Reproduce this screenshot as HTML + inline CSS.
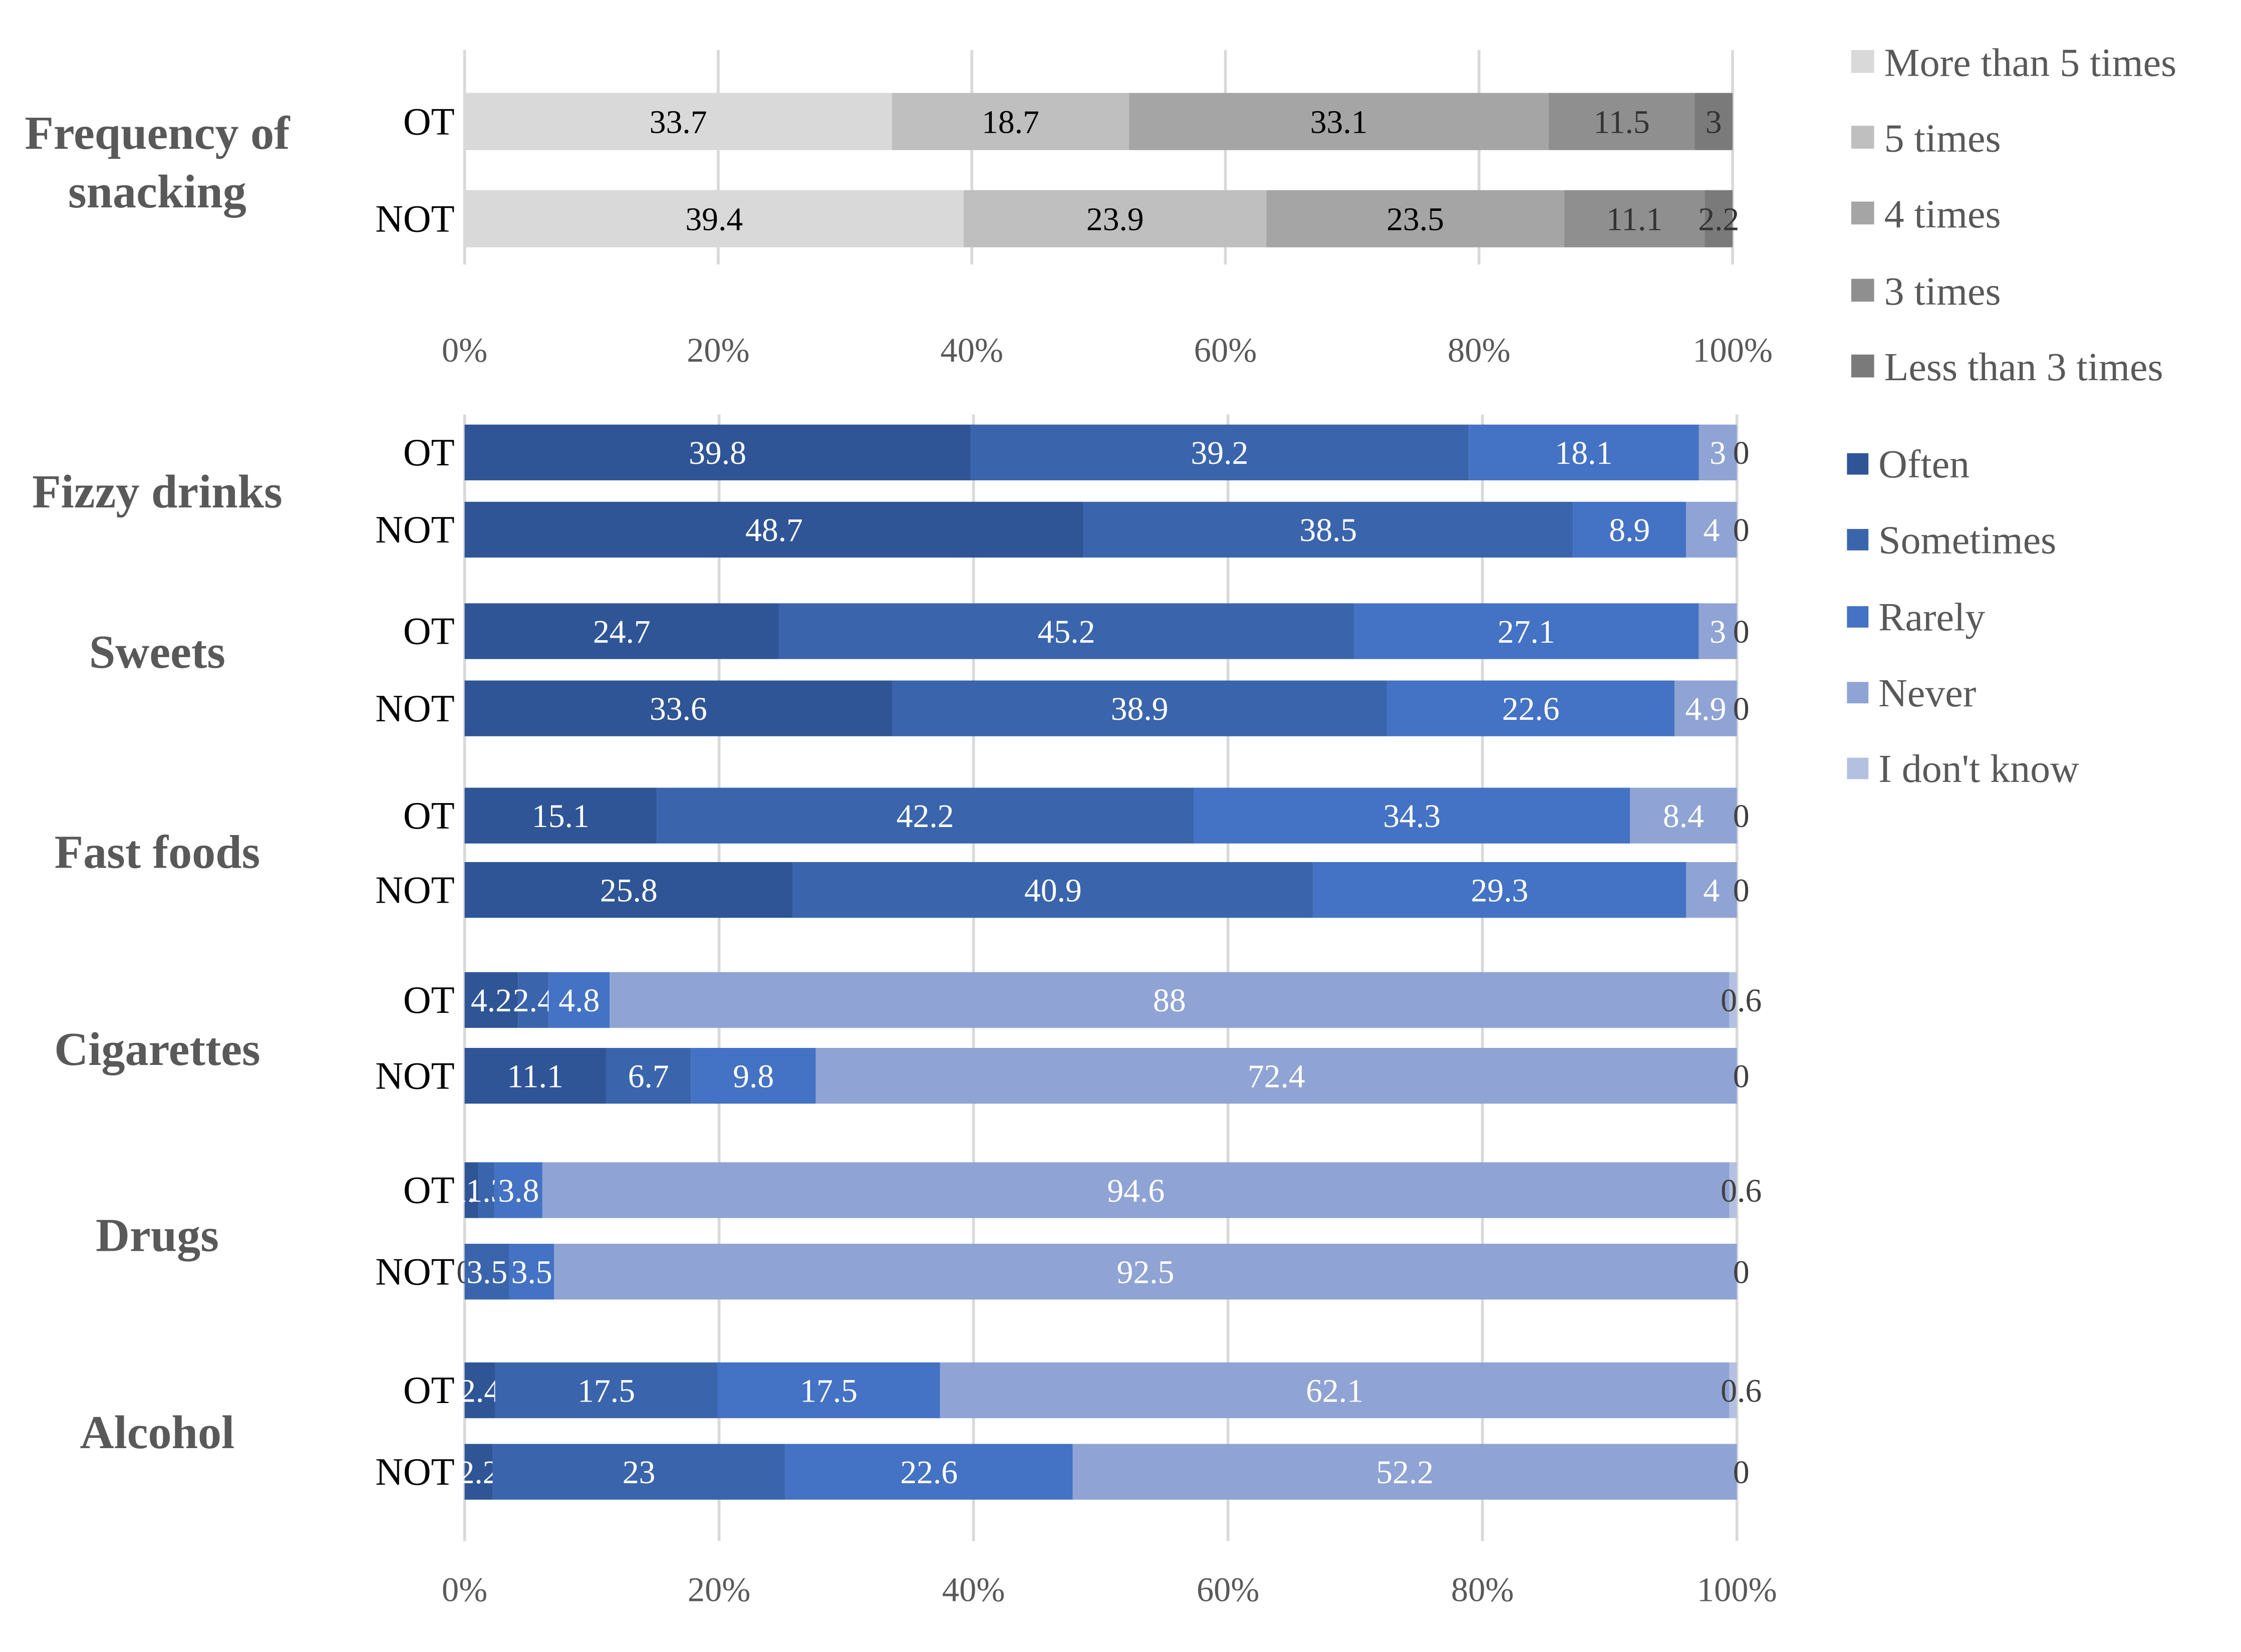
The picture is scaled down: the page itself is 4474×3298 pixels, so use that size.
<!DOCTYPE html>
<html><head><meta charset="utf-8"><style>
html,body{margin:0;padding:0;background:#fff;}
svg{display:block;}
text{font-family:"Liberation Serif",serif;}
</style></head><body>
<svg id="chart" width="4474" height="3298" viewBox="0 0 1559 1149.2" preserveAspectRatio="none" xmlns="http://www.w3.org/2000/svg"><g id="root" transform="scale(0.9945)"></g></svg>
<script>
const topCats = ["OT","NOT"];
const topSeries = ["More than 5 times","5 times","4 times","3 times","Less than 3 times"];
const topValues = [[33.7,18.7,33.1,11.5,3],[39.4,23.9,23.5,11.1,2.2]];
const botGroups = ["Fizzy drinks","Sweets","Fast foods","Cigarettes","Drugs","Alcohol"];
const botSeries = ["Often","Sometimes","Rarely","Never","I don't know"];
const botValues = [
 [[39.8,39.2,18.1,3,0],[48.7,38.5,8.9,4,0]],
 [[24.7,45.2,27.1,3,0],[33.6,38.9,22.6,4.9,0]],
 [[15.1,42.2,34.3,8.4,0],[25.8,40.9,29.3,4,0]],
 [[4.2,2.4,4.8,88,0.6],[11.1,6.7,9.8,72.4,0]],
 [[1.1,1.3,3.8,94.6,0.6],[0,3.5,3.5,92.5,0]],
 [[2.4,17.5,17.5,62.1,0.6],[2.2,23,22.6,52.2,0]]
];
const tickLabels = ["0%","20%","40%","60%","80%","100%"];
const tickVals = [0,20,40,60,80,100];

const svg = document.getElementById('root');
const NS = "http://www.w3.org/2000/svg";
function mk(tag, attrs, txt){const e=document.createElementNS(NS,tag);for(const k in attrs)e.setAttribute(k,attrs[k]);if(txt!==undefined)e.textContent=txt;svg.appendChild(e);return e;}
const grayC = ["#d9d9d9","#bfbfbf","#a5a5a5","#8f8f8f","#7a7a7a"];
const blueC = ["#2f5597","#3a65ad","#4472c4","#8fa3d4","#b4c0e0"];
const xTop = v => 325 + v*(1212-325)/100;
const xBot = v => 325 + v*(1215-325)/100;
const sum = a => a.reduce((p,c)=>p+c,0);

tickVals.forEach((t,i)=>{
  let g=mk('line',{x1:xTop(t),x2:xTop(t),y1:35,y2:185,stroke:"#d9d9d9","stroke-width":2});
  
  let l=mk('text',{x:xTop(t),y:253,"font-size":24,fill:"#595959","text-anchor":"middle"},tickLabels[i]);
  
});
const topY=[65,133], topH=40;
topCats.forEach((c,ci)=>{
  let lab=mk('text',{x:318,y:topY[ci]+topH/2+9,"font-size":27,fill:"#000","text-anchor":"end"},c);
  
  const tot=sum(topValues[ci]);
  let acc=0;
  topValues[ci].forEach((v,si)=>{
    const x0=xTop(acc/tot*100),x1=xTop((acc+v)/tot*100);
    let r=mk('rect',{x:x0,y:topY[ci],width:x1-x0,height:topH,fill:grayC[si]});
    
    let t=mk('text',{x:(x0+x1)/2,y:topY[ci]+topH/2+8,"font-size":23,fill:si>=3?"#333":"#000","text-anchor":"middle"},String(v));
    
    acc+=v;
  });
});
let tt=mk('text',{x:110,y:104,"font-size":33,"font-weight":"bold",fill:"#595959","text-anchor":"middle"},"Frequency of");

tt=mk('text',{x:110,y:145,"font-size":33,"font-weight":"bold",fill:"#595959","text-anchor":"middle"},"snacking");


tickVals.forEach((t,i)=>{
  let g=mk('line',{x1:xBot(t),x2:xBot(t),y1:290,y2:1078,stroke:"#d9d9d9","stroke-width":2});
  
  let l=mk('text',{x:xBot(t),y:1120,"font-size":24,fill:"#595959","text-anchor":"middle"},tickLabels[i]);
  
});
const rowsY=[[297,351],[422,476],[551,603],[680,733],[813,870],[953,1010]];
const barH=39;
const groupLabelY=[355,467,607,745,875,1013];
botGroups.forEach((g,gi)=>{
  let gl=mk('text',{x:110,y:groupLabelY[gi],"font-size":33,"font-weight":"bold",fill:"#595959","text-anchor":"middle"},g);
  
  botValues[gi].forEach((vals,ci)=>{
    const y=rowsY[gi][ci];
    let lab=mk('text',{x:318,y:y+barH/2+9,"font-size":27,fill:"#000","text-anchor":"end"},topCats[ci]);
    
    const tot=sum(vals);
    let acc=0;
    vals.forEach((v,si)=>{
      const x0=xBot(acc/tot*100),x1=xBot((acc+v)/tot*100);
      if(v>0){
        let r=mk('rect',{x:x0,y:y,width:x1-x0,height:barH,fill:blueC[si]});
        
      }
      let cx=(x0+x1)/2, col="#fff";
      if(si===4){cx=xBot(100)+3;col="#404040";}
      else if(v===0){col="#404040";}
      let t=mk('text',{x:cx,y:y+barH/2+8,"font-size":23,fill:col,"text-anchor":"middle"},String(v));
      
      acc+=v;
    });
  });
});

const legTopY=[44,97,150,204,257];
topSeries.forEach((s,i)=>{
  let r=mk('rect',{x:1295,y:legTopY[i]-9,width:16,height:16,fill:grayC[i]});
  
  let t=mk('text',{x:1318,y:legTopY[i]+9,"font-size":28,fill:"#595959"},s);
  
});
const legBotY=[325,378,432,485,538];
botSeries.forEach((s,i)=>{
  let r=mk('rect',{x:1292,y:legBotY[i]-8,width:15,height:15,fill:blueC[i]});
  
  let t=mk('text',{x:1314,y:legBotY[i]+9,"font-size":28,fill:"#595959"},s);
  
});
</script>
</body></html>
